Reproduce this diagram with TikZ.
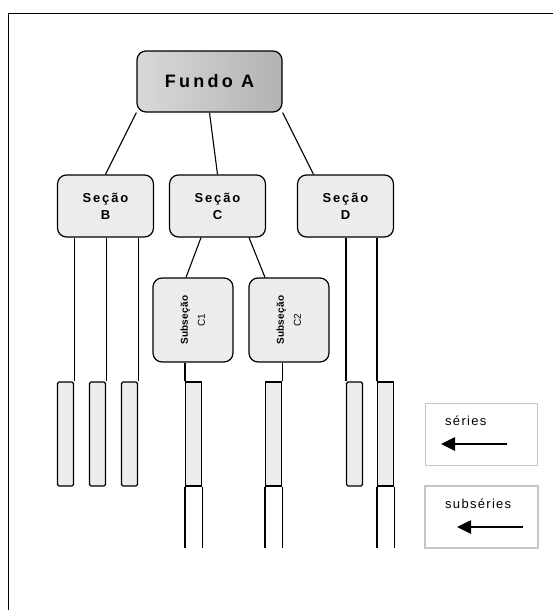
\documentclass[tikz,border=0pt]{standalone}
\usepackage{fontspec}
\setmainfont{Liberation Sans}
\usepackage{graphicx}
\usetikzlibrary{arrows.meta}
\def\liga{\draw[conector]}
\def\espaco#1{\addfontfeatures{LetterSpace=#1}}

\begin{document}
\begin{tikzpicture}[x=1pt,y=-1pt,
    conector/.style={line width=1.1pt},
    fundo/.style={draw,line width=1.2pt,rounded corners=9pt,minimum width=145pt,minimum height=61pt,
        left color=gray!30,middle color=white!96!gray,right color=gray!60,
        font=\bfseries\fontsize{18}{20}\selectfont\espaco{18}},
    secao/.style={draw,line width=1.2pt,rounded corners=9pt,fill=gray!15,minimum width=96pt,minimum height=62pt,
        align=center,font=\bfseries\fontsize{13}{17}\selectfont\espaco{14}},
    subsecao/.style={draw,line width=1.2pt,rounded corners=9pt,fill=gray!15,minimum width=80pt,minimum height=84pt,inner sep=0pt},
    serie/.style={draw,line width=1.1pt,rounded corners=1.5pt,fill=gray!15,minimum width=16pt,minimum height=104pt,inner sep=0pt},
    legenda/.style={draw=gray!45,line width=0.9pt,minimum width=112pt,minimum height=62pt},
    rotulo/.style={anchor=west,inner sep=0pt,font=\fontsize{13}{15}\selectfont\espaco{10}},
    seta/.style={line width=2.6pt,-{Triangle[length=14pt,width=13pt]}}]
\useasboundingbox (0,0) rectangle (553,610);
\draw[line width=1.4pt] (8.5,625) -- (8.5,13.5) -- (570,13.5);
% arvore
\node[fundo] (fundoA) at (209.5,81.5) {Fundo A};
\node[secao] (secB) at (105.5,206) {Seção\\B};
\node[secao] (secC) at (217.5,206) {Seção\\C};
\node[secao] (secD) at (345.5,206) {Seção\\D};
\node[subsecao] (subC1) at (193,320) {\rotatebox{90}{\fontsize{10}{17}\selectfont\begin{tabular}{@{}c@{}}\textbf{\espaco{3}Subseção}\\C1\end{tabular}}};
\node[subsecao] (subC2) at (289,320) {\rotatebox{90}{\fontsize{10}{17}\selectfont\begin{tabular}{@{}c@{}}\textbf{\espaco{3}Subseção}\\C2\end{tabular}}};
\liga (fundoA.south west) -- (secB.north);
\liga (fundoA.south) -- (secC.north);
\liga (fundoA.south east) -- ([xshift=-32pt]secD.north);
\liga ([xshift=-16.5pt]secC.south) -- ([xshift=-7pt]subC1.north);
\liga ([xshift=31.5pt]secC.south) -- ([xshift=-24pt]subC2.north);
% series
\node[serie] (serB1) at (65.5,434) {};
\node[serie] (serB2) at (97.5,434) {};
\node[serie] (serB3) at (129.5,434) {};
\node[serie] (serD1) at (354.5,434) {};
\node[serie,rounded corners=0pt] (subserC1) at (193.5,434) {};
\node[serie,rounded corners=0pt] (subserC2) at (273.5,434) {};
\node[serie,rounded corners=0pt] (subserD2) at (385.5,434) {};
\coordinate (fim) at (0,548);
\liga (serB1.north east) -- (serB1.north east |- secB.south);
\liga (serB2.north east) -- (serB2.north east |- secB.south);
\liga (serB3.north east) -- (serB3.north east |- secB.south);
\liga (subserC1.north west) -- (subserC1.north west |- subC1.south);
\liga (subserC2.north east) -- (subserC2.north east |- subC2.south);
\liga (serD1.north west) -- (serD1.north west |- secD.south);
\liga (subserD2.north west) -- (subserD2.north west |- secD.south);
\foreach \s in {subserC1,subserC2,subserD2}{
    \liga (\s.south west) -- (\s.south west |- fim);
    \liga (\s.south east) -- (\s.south east |- fim);
}
% legenda
\node[legenda] (legSerie) at (481,434) {};
\node[legenda,minimum width=113pt,line width=1.1pt] (legSub) at (481.5,517) {};
\node[rotulo] (txtSerie) at (445,421) {séries};
\node[rotulo] (txtSub) at (445,504) {subséries};
\coordinate (s1a) at (507,444);
\coordinate (s1b) at (441,444);
\coordinate (s2a) at (523,527);
\coordinate (s2b) at (457,527);
\draw[seta] (s1a) -- (s1b);
\draw[seta] (s2a) -- (s2b);
\end{tikzpicture}
\end{document}
